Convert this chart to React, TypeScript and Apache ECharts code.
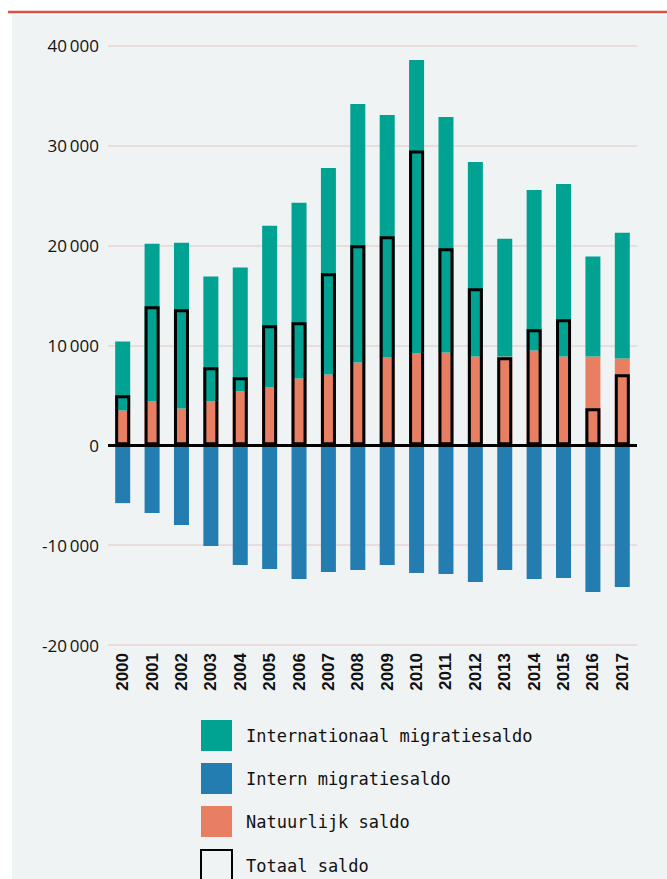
import React, { useEffect, useRef } from "react";
import * as echarts from "echarts";

const years = ["2000","2001","2002","2003","2004","2005","2006","2007","2008","2009","2010","2011","2012","2013","2014","2015","2016","2017"];
const natuurlijk = [3470, 4400, 3670, 4400, 5400, 5800, 6670, 7070, 8270, 8770, 9170, 9270, 8870, 8870, 9470, 8870, 8870, 8670];
const internationaalTop = [10370, 20170, 20270, 16870, 17770, 21970, 24250, 27750, 34150, 33050, 38550, 32850, 28350, 20670, 25550, 26150, 18870, 21250];
const internationaal = internationaalTop.map((t, i) => t - natuurlijk[i]);
const intern = [-5800, -6800, -8000, -10100, -12000, -12400, -13400, -12700, -12500, -12000, -12800, -12900, -13700, -12500, -13400, -13300, -14700, -14200];
const totaal = [5000, 13900, 13600, 7800, 6800, 12000, 12300, 17200, 20000, 20900, 29500, 19700, 15700, 8800, 11600, 12600, 3700, 7100];

const yTicks = { min: -20000, max: 40000, interval: 10000 };

const fmt = (v: number) => {
  const s = Math.abs(v).toString();
  const body = s.length > 3 ? s.slice(0, s.length - 3) + "\u2009" + s.slice(s.length - 3) : s;
  return (v < 0 ? "-" : "") + body;
};

export default function App() {
  const ref = useRef<HTMLDivElement>(null);
  useEffect(() => {
    if (!ref.current) return;
    const chart = echarts.init(ref.current, null, { renderer: "svg" });
    const barW = 15;
    chart.setOption({
      animation: false,
      backgroundColor: "#ffffff",
      graphic: [
        { type: "rect", z: -10, shape: { x: 12, y: 15, width: 655, height: 864 }, style: { fill: "#eff3f4" } },
        { type: "line", z: -10, shape: { x1: 8, y1: 12, x2: 667, y2: 12 }, style: { stroke: "#e0503f", lineWidth: 2.5 } },
      ],
      grid: { left: 108, right: 30, top: 45.5, height: 599.5, containLabel: false },
      legend: {
        orient: "vertical",
        left: 200,
        top: 720,
        height: 260,
        padding: 0,
        itemWidth: 31,
        itemHeight: 31,
        itemGap: 12,
        icon: "rect",
        selectedMode: false,
        data: ["Internationaal migratiesaldo", "Intern migratiesaldo", "Natuurlijk saldo", "Totaal saldo"],
        textStyle: { fontFamily: "DejaVu Sans Mono", fontSize: 17, color: "#111", padding: [3, 0, 0, 9] },
      },
      xAxis: {
        type: "category",
        data: years,
        axisLine: { show: false },
        axisTick: { show: false },
        axisLabel: { rotate: 90, margin: 8, fontFamily: "Liberation Sans", fontWeight: "bold", fontSize: 17, color: "#111" },
      },
      yAxis: {
        type: "value",
        min: yTicks.min,
        max: yTicks.max,
        interval: yTicks.interval,
        axisLine: { show: false },
        axisTick: { show: false },
        axisLabel: { formatter: fmt, margin: 9, fontFamily: "Open Sans", fontSize: 17, color: "#111" },
        splitLine: { lineStyle: { color: "#ead4d4", width: 1.5 } },
      },
      series: [
        {
          name: "Natuurlijk saldo",
          type: "bar",
          stack: "s",
          barWidth: barW,
          barGap: "-100%",
          data: natuurlijk,
          itemStyle: { color: "#e87f62" },
        },
        {
          name: "Internationaal migratiesaldo",
          type: "bar",
          stack: "s",
          barWidth: barW,
          barGap: "-100%",
          data: internationaal,
          itemStyle: { color: "#00a291" },
        },
        {
          name: "Intern migratiesaldo",
          type: "bar",
          stack: "s",
          barWidth: barW,
          barGap: "-100%",
          data: intern,
          itemStyle: { color: "#237db0" },
        },
        {
          name: "Totaal saldo",
          type: "bar",
          barWidth: barW,
          barGap: "-100%",
          z: 5,
          data: totaal,
          itemStyle: { color: "rgba(0,0,0,0)", borderColor: "#000", borderWidth: 3 },
          markLine: {
            silent: true,
            symbol: "none",
            label: { show: false },
            lineStyle: { color: "#000", width: 3, type: "solid" },
            data: [{ yAxis: 0 }],
          },
        },
      ],
    });
    return () => chart.dispose();
  }, []);
  return <div ref={ref} style={{ position: "fixed", left: 0, top: 0, width: 667, height: 879 }} />;
}
